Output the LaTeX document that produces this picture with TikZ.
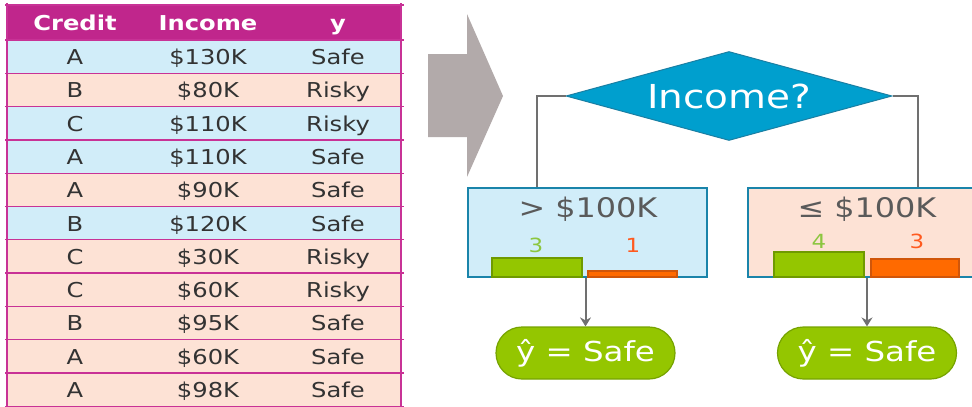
\documentclass[tikz,border=0pt]{standalone}
\usepackage{fontspec}
\setmainfont{DejaVu Sans}[FakeStretch=1.18]
\usetikzlibrary{arrows.meta,shapes.geometric}
\definecolor{magenta}{HTML}{C0268C}
\definecolor{gridline}{HTML}{C83296}
\definecolor{rowblue}{HTML}{D1EDF9}
\definecolor{rowpeach}{HTML}{FDE2D5}
\definecolor{diafill}{HTML}{009FCE}
\definecolor{diaborder}{HTML}{1A7FA3}
\definecolor{boxborder}{HTML}{1A84AA}
\definecolor{barg}{HTML}{94C600}
\definecolor{bargd}{HTML}{6F9A00}
\definecolor{baro}{HTML}{FF6A00}
\definecolor{barod}{HTML}{D0560A}
\definecolor{numg}{HTML}{8CC63F}
\definecolor{numo}{HTML}{FF5A1F}
\definecolor{conn}{HTML}{707070}
\definecolor{bigarrow}{HTML}{B2AAAA}
\definecolor{txt}{HTML}{333333}
\definecolor{boxtxt}{HTML}{5A5A5A}
\begin{document}
\begin{tikzpicture}[x=1pt,y=-1pt,
  cell/.style={font=\fontsize{20.5}{22}\selectfont, text=txt, inner sep=0pt, anchor=base},
  head/.style={font=\fontsize{20.5}{22}\selectfont\bfseries, text=white, inner sep=0pt, anchor=base},
  grid/.style={draw=gridline, line width=1.3pt},
  splitbox/.style={draw=boxborder, line width=1.4pt, minimum width=239pt, minimum height=89pt, inner sep=0pt},
  boxlabel/.style={font=\fontsize{27}{29}\selectfont, text=boxtxt, inner sep=0pt, anchor=base},
  gbar/.style={fill=barg, draw=bargd, line width=2pt},
  obar/.style={fill=baro, draw=barod, line width=1.4pt},
  num/.style={font=\fontsize{19.5}{21}\selectfont, inner sep=0pt, anchor=base},
  leaf/.style={fill=barg, draw=bargd!80!barg, line width=1.2pt, minimum width=179pt, minimum height=52pt, rounded corners=26pt, inner sep=0pt, text=white, font=\fontsize{27.5}{29}\selectfont},
  connector/.style={draw=conn, line width=2pt},
  arr/.style={connector, -{Stealth[length=9pt,width=11pt,inset=3pt]}}
]
\useasboundingbox (0,0) rectangle (972,407);
% ---------- table ----------
\fill[magenta] (7,5) rectangle (401,40);
\foreach \i/\c in {0/rowblue,1/rowpeach,2/rowblue,3/rowblue,4/rowpeach,5/rowblue,6/rowpeach,7/rowpeach,8/rowpeach,9/rowpeach,10/rowpeach}{
  \fill[\c] (7,{40+33.3*\i}) rectangle (401,{40+33.3*(\i+1)});
}
\foreach \i in {0,...,11}{
  \draw[grid] (5,{40+33.3*\i}) -- (404,{40+33.3*\i});
}
\draw[grid] (5,5) -- (404,5);
\draw[grid] (7,3) -- (7,407);
\draw[grid] (401,3) -- (401,407);
\node[head] (hc) at (75,30.5) {Credit};
\node[head] (hi) at (208,30.5) {Income};
\node[head] (hy) at (338,30.5) {y};
\foreach \i/\a/\b/\c in {0/A/\$130K/Safe,1/B/\$80K/Risky,2/C/\$110K/Risky,3/A/\$110K/Safe,4/A/\$90K/Safe,5/B/\$120K/Safe,6/C/\$30K/Risky,7/C/\$60K/Risky,8/B/\$95K/Safe,9/A/\$60K/Safe,10/A/\$98K/Safe}{
  \node[cell] (ca\i) at (75,{64.5+33.3*\i}) {\a};
  \node[cell] (cb\i) at (208,{64.5+33.3*\i}) {\b};
  \node[cell] (cc\i) at (338,{64.5+33.3*\i}) {\c};
}
% ---------- big gray arrow ----------
\fill[bigarrow] (428,54) -- (467,54) -- (467,14) -- (503,96) -- (467,177) -- (467,137) -- (428,137) -- cycle;
% ---------- tree ----------
\node[diamond, aspect=3.66, fill=diafill, draw=diaborder, line width=1pt, minimum width=326pt, minimum height=89pt, inner sep=0pt,
      text=white, font=\fontsize{33}{35}\selectfont] (dia) at (729,96) {Income?};
\node[splitbox, fill=rowblue] (lbox) at (587.5,232.5) {};
\node[splitbox, fill=rowpeach, minimum width=238pt] (rbox) at (867,232.5) {};
\node[boxlabel] (ltext) at (588,217) {> \$100K};
\node[boxlabel] (rtext) at (867,217) {≤ \$100K};
% bars
\draw[gbar] (492,258) rectangle (582,277);
\draw[obar] (588,271) rectangle (677,277);
\draw[gbar] (774,252) rectangle (864,277);
\draw[obar] (871,259) rectangle (959,277);
\node[num, text=numg] (n3) at (536,252) {3};
\node[num, text=numo] (n1) at (633,252) {1};
\node[num, text=numg] (n4) at (819,248) {4};
\node[num, text=numo] (n3b) at (917,248) {3};
% leaves
\node[leaf] (lleaf) at (585.5,353) {ŷ = Safe};
\node[leaf] (rleaf) at (867,353) {ŷ = Safe};
% connectors
\draw[connector] (dia.west) -| ([xshift=-50.5pt]lbox.north);
\draw[connector] (dia.east) -| ([xshift=51pt]rbox.north);
\draw[arr] (lleaf.north |- lbox.south) -- (lleaf.north);
\draw[arr] (rleaf.north |- rbox.south) -- (rleaf.north);
\end{tikzpicture}
\end{document}
